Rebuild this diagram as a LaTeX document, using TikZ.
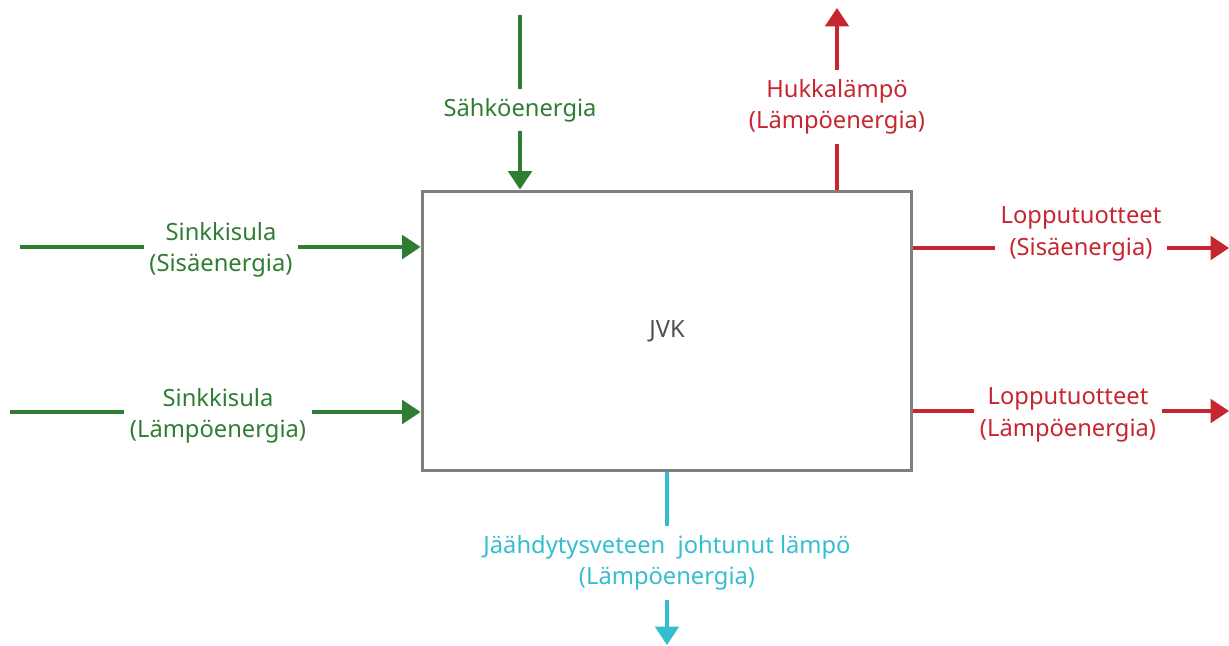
\documentclass[tikz,border=0pt]{standalone}
\usepackage{fontspec}
\setmainfont{Noto Sans}
\usetikzlibrary{arrows.meta, positioning}
\definecolor{ingreen}{HTML}{2E7D32}
\definecolor{outred}{HTML}{C5262F}
\definecolor{coolcyan}{HTML}{35BDD0}
\definecolor{boxgray}{HTML}{7F7F7F}
\definecolor{textgray}{HTML}{505050}

\begin{document}
\begin{tikzpicture}[x=0.02cm, y=-0.02cm,
    flow/.style={line width=1.8pt},
    flowarrow/.style={flow, -{Triangle[length=10.5pt, width=13.5pt]}},
    lbl/.style={align=center, inner xsep=3pt, inner ysep=5pt, font=\fontsize{13.5}{18}\selectfont}]
  \useasboundingbox (0,0) rectangle (1229,645);

  % Process box
  \node[draw=boxgray, line width=1.7pt, minimum width=9.8cm, minimum height=5.6cm,
        text=textgray, font=\fontsize{13.5}{18}\selectfont] (jvk) at (667,331) {JVK};

  % Electricity in from the top
  \coordinate (sahko-in) at (520,15);
  \node[lbl, text=ingreen] (sahko) at (520,110) {Sähköenergia};
  \draw[flow, ingreen] (sahko-in) -- (sahko);
  \draw[flowarrow, ingreen] (sahko) -- (sahko |- jvk.north);

  % Zinc melt in from the left
  \coordinate (sisa-in) at (20,247);
  \node[lbl, text=ingreen] (sisa) at (221,250) {Sinkkisula\\(Sisäenergia)};
  \draw[flow, ingreen] (sisa-in) -- (sisa-in -| sisa.west);
  \draw[flowarrow, ingreen] (sisa-in -| sisa.east) -- (sisa-in -| jvk.west);

  \coordinate (lampo-in) at (10,412);
  \node[lbl, text=ingreen] (lampo) at (218,416) {Sinkkisula\\(Lämpöenergia)};
  \draw[flow, ingreen] (lampo-in) -- (lampo-in -| lampo.west);
  \draw[flowarrow, ingreen] (lampo-in -| lampo.east) -- (lampo-in -| jvk.west);

  % Waste heat out of the top
  \coordinate (hukka-out) at (837,8);
  \node[lbl, text=outred] (hukka) at (837,107) {Hukkalämpö\\(Lämpöenergia)};
  \draw[flow, outred] (hukka |- jvk.north) -- (hukka);
  \draw[flowarrow, outred] (hukka) -- (hukka-out);

  % End products out to the right
  \coordinate (lopsisa-out) at (1229,248);
  \node[lbl, text=outred, anchor=south] (lopsisa) at (1081,270) {Lopputuotteet\\(Sisäenergia)};
  \draw[flow, outred] (lopsisa-out -| jvk.east) -- (lopsisa-out -| lopsisa.west);
  \draw[flowarrow, outred] (lopsisa-out -| lopsisa.east) -- (lopsisa-out);

  \coordinate (loplampo-out) at (1229,411);
  \node[lbl, text=outred] (loplampo) at (1068,415) {Lopputuotteet\\(Lämpöenergia)};
  \draw[flow, outred] (loplampo-out -| jvk.east) -- (loplampo-out -| loplampo.west);
  \draw[flowarrow, outred] (loplampo-out -| loplampo.east) -- (loplampo-out);

  % Heat carried off by the cooling water
  \coordinate (jaahd-out) at (667,645);
  \node[lbl, text=coolcyan] (jaahd) at (667,563) {Jäähdytysveteen~ johtunut lämpö\\(Lämpöenergia)};
  \draw[flow, coolcyan] (jvk.south) -- (jaahd);
  \draw[flowarrow, coolcyan] (jaahd) -- (jaahd-out);
\end{tikzpicture}
\end{document}
